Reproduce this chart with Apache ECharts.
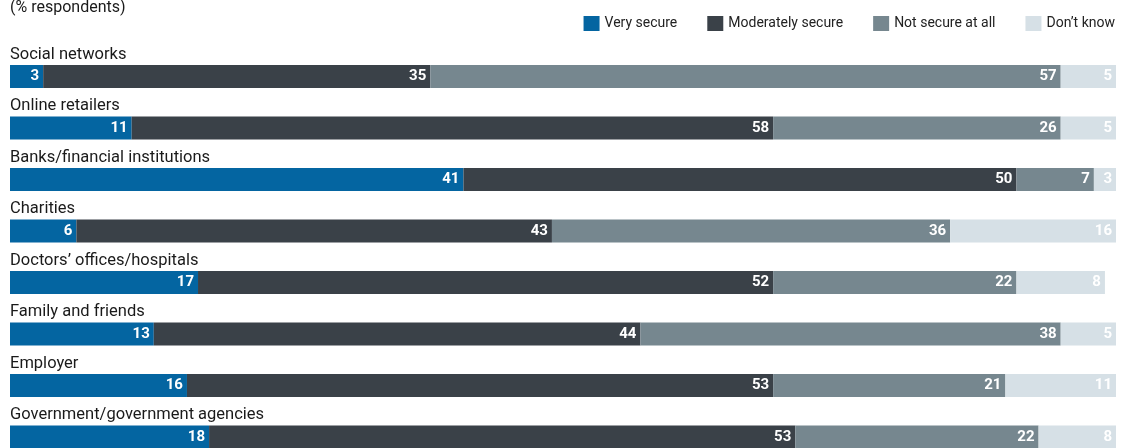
<!DOCTYPE html>
<html>
<head>
<meta charset="utf-8">
<script src="https://cdn.jsdelivr.net/npm/echarts@6/dist/echarts.min.js"></script>
<style>
  html, body { margin: 0; padding: 0; background: #fff; overflow: hidden; }
  #chart { width: 1132px; height: 480px; }
</style>
</head>
<body>
<div id="chart"></div>
<script>
// Survey: how secure respondents feel their personal data is with each organisation type
const categories = [
  'Social networks',
  'Online retailers',
  'Banks/financial institutions',
  'Charities',
  'Doctors\u2019 offices/hospitals',
  'Family and friends',
  'Employer',
  'Government/government agencies'
];
const verySecure       = [3, 11, 41, 6, 17, 13, 16, 18];
const moderatelySecure = [35, 58, 50, 43, 52, 44, 53, 53];
const notSecureAtAll   = [57, 26, 7, 36, 22, 38, 21, 22];
const dontKnow         = [5, 5, 3, 16, 8, 5, 11, 8];

const seriesNames  = ['Very secure', 'Moderately secure', 'Not secure at all', 'Don\u2019t know'];
const seriesValues = [verySecure, moderatelySecure, notSecureAtAll, dontKnow];
const seriesColors = ['#0465a1', '#3a4148', '#76878f', '#d6e0e6'];

const FONT = 'Roboto, "Noto Sans", sans-serif';

const chart = echarts.init(document.getElementById('chart'), null, { renderer: 'canvas' });

chart.setOption({
  animation: false,
  backgroundColor: '#ffffff',
  textStyle: { fontFamily: FONT },
  graphic: [{
    type: 'text',
    left: 10,
    top: 0,
    style: {
      text: '(% respondents)',
      fontSize: 16,
      fontFamily: FONT,
      fill: '#1a1a1a',
      verticalAlign: 'bottom',
      y: 9
    }
  }],
  legend: {
    top: 11,
    right: 12,
    itemWidth: 16,
    itemHeight: 15,
    itemGap: 30,
    icon: 'rect',
    textStyle: { fontSize: 14, color: '#222', fontFamily: FONT },
    data: seriesNames
  },
  grid: { left: 10, right: 16, top: 50.75, height: 412, containLabel: false },
  xAxis: {
    type: 'value',
    min: 0,
    max: 100,
    show: false
  },
  yAxis: {
    type: 'category',
    inverse: true,
    data: categories,
    axisLine: { show: false },
    axisTick: { show: false },
    splitLine: { show: false },
    axisLabel: {
      inside: true,
      margin: 0,
      align: 'left',
      verticalAlign: 'bottom',
      padding: [0, 0, 13, 0],
      fontSize: 16.5,
      lineHeight: 18,
      color: '#1a1a1a',
      fontFamily: FONT
    }
  },
  series: seriesNames.map((name, i) => ({
    name,
    type: 'bar',
    stack: 'total',
    barWidth: 23,
    clip: true,
    itemStyle: { color: seriesColors[i] },
    label: {
      show: true,
      position: 'insideRight',
      distance: 4,
      color: '#ffffff',
      fontWeight: 'bold',
      fontSize: 15,
      fontFamily: FONT
    },
    emphasis: { disabled: true },
    data: seriesValues[i]
  }))
});
</script>
</body>
</html>
